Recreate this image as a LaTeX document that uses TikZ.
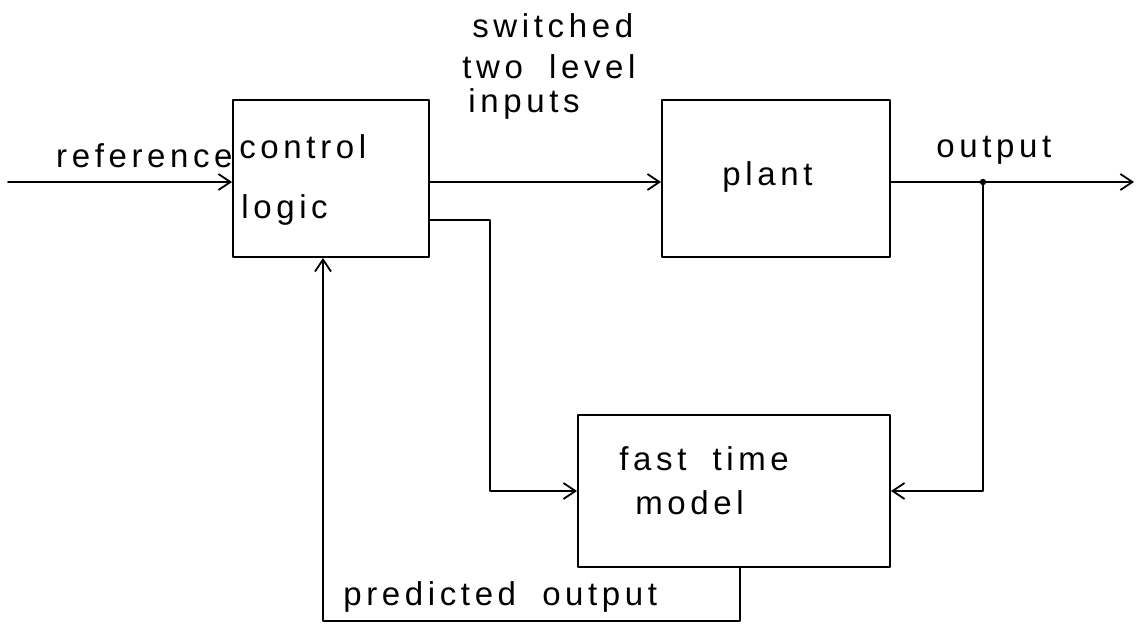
\documentclass[tikz,border=0pt]{standalone}
\usepackage{fontspec}
\setmainfont{Liberation Sans}[LetterSpace=14, WordSpace=1.9]
\usetikzlibrary{arrows.meta, calc, positioning}

\begin{document}
\begin{tikzpicture}[x=0.5pt, y=0.5pt, line cap=round, line join=round,
  font=\fontsize{16.5}{20}\selectfont,
  blocco/.style={draw, line width=0.9pt, inner sep=0pt},
  freccia/.style={-{Straight Barb[length=6pt,width=8pt]}, line width=0.9pt},
  testo/.style={anchor=base west, inner sep=0pt}]
\useasboundingbox (0,0) rectangle (1141,623);

% --- Blocchi ---
\node[blocco, minimum width=98pt, minimum height=78.5pt] (ctrl) at (331,444.5) {};
\node[blocco, minimum width=114pt, minimum height=78.5pt] (plant) at (776,444.5) {};
\node[blocco, minimum width=156pt, minimum height=76pt] (model) at (734,132) {};

% --- Punti di appoggio ---
\coordinate (refin) at (8,441);
\coordinate (outend) at (1134,441);
\coordinate (nodo) at (983,441);
\coordinate (gomito) at (490,403);
\coordinate (pred) at (740,2);
\coordinate (ritorno) at (323,2);

% --- Collegamenti ---
\draw[freccia] (refin) -- (refin -| ctrl.west);
\draw[freccia] (ctrl.east |- refin) -- (plant.west |- refin);
\draw[freccia] (plant.east |- refin) -- (outend);
\fill (nodo) circle (1.6pt);
\draw[freccia] (nodo) |- (model.east);
\draw[freccia] (ctrl.east |- gomito) -- (gomito) |- (model.west);
\draw[freccia] (model.south -| pred) -- (pred) -- (ritorno) -- (ctrl.south -| ritorno);

% --- Etichette ---
\node[anchor=base east, inner sep=0pt] (reftxt) at (233,456) {reference};
\node[testo] (ctrltxt) at (239,465) {control};
\node[testo] (logictxt) at (241,405) {logic};
\node[testo] (sw1) at (472,585) {switched};
\node[testo] (sw2) at (462,545) {two level};
\node[testo] (sw3) at (468,511) {inputs};
\node[testo] (planttxt) at (722,438) {plant};
\node[testo] (outtxt) at (936,466) {output};
\node[testo] (fasttxt) at (619,153) {fast time};
\node[testo] (modeltxt) at (635,109) {model};
\node[testo] (predtxt) at (343,18) {predicted output};
\end{tikzpicture}
\end{document}
